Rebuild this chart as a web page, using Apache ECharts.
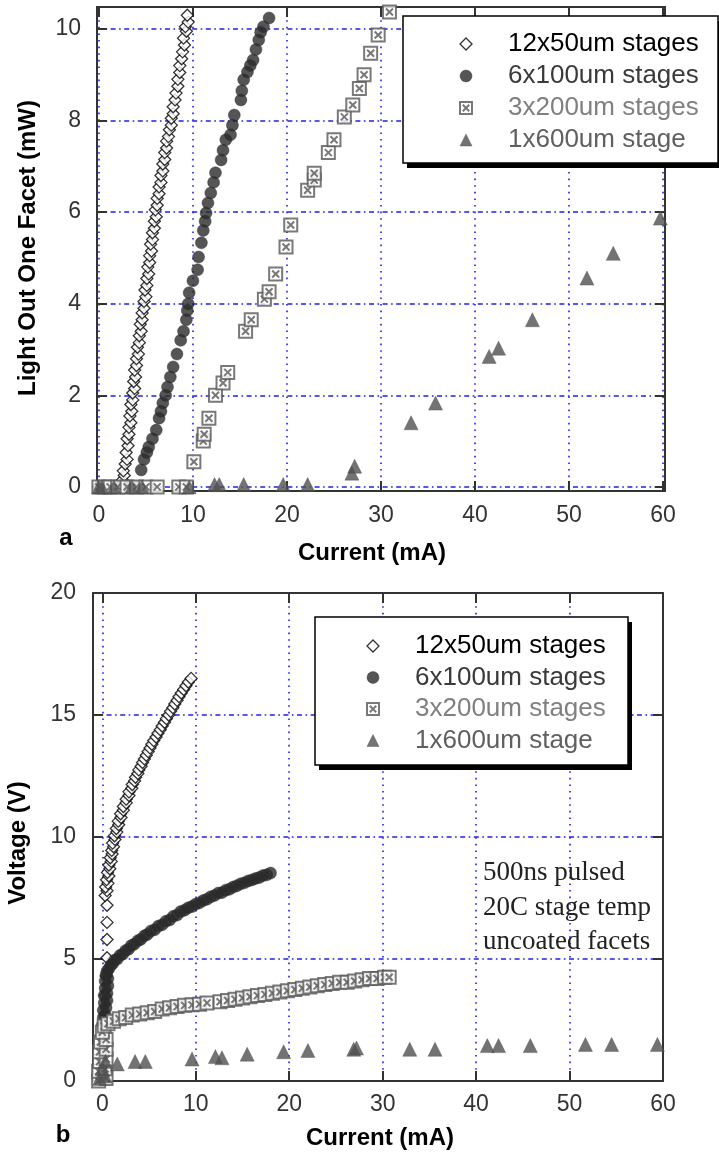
<!DOCTYPE html>
<html>
<head>
<meta charset="utf-8">
<script src="https://cdn.jsdelivr.net/npm/echarts@6/dist/echarts.min.js"></script>
<style>
html,body{margin:0;padding:0;background:#fff;}
#chart{width:719px;height:1154px;}
</style>
</head>
<body>
<div id="chart"></div>
<script>
// ---------- DATA ----------
const seriesNames = ['12x50um stages', '6x100um stages', '3x200um stages', '1x600um stage'];
const xTickValues = [0, 10, 20, 30, 40, 50, 60];
const lightTickValues = [0, 2, 4, 6, 8, 10];
const voltTickValues = [0, 5, 10, 15, 20];

// (a) Light out one facet (mW) vs current (mA)
const light12x50 = [[0,0],[0.3,0],[0.6,0],[0.9,0],[1.2,0],[1.5,0],[1.8,0],[2.1,0],[2.4,0.0],[2.5,0.15],[2.7,0.25],[2.6,0.35],[2.8,0.5],[3.0,0.6],[2.9,0.75],[3.1,0.9],[3.0,1.05],[3.2,1.15],[3.2,1.3],[3.4,1.4],[3.3,1.55],[3.5,1.65],[3.4,1.8],[3.6,1.9],[3.6,2.05],[3.8,2.15],[3.7,2.3],[3.9,2.4],[3.8,2.55],[4.0,2.65],[4.0,2.8],[4.2,2.9],[4.1,3.05],[4.3,3.15],[4.3,3.3],[4.5,3.4],[4.4,3.55],[4.6,3.65],[4.6,3.8],[4.8,3.9],[4.8,4.05],[5.0,4.15],[4.9,4.3],[5.1,4.4],[5.1,4.55],[5.3,4.65],[5.2,4.8],[5.4,4.9],[5.4,5.05],[5.6,5.15],[5.5,5.3],[5.7,5.4],[5.7,5.55],[5.9,5.65],[5.9,5.8],[6.1,5.9],[6.0,6.05],[6.2,6.15],[6.2,6.3],[6.4,6.4],[6.4,6.55],[6.6,6.65],[6.6,6.8],[6.8,6.9],[6.8,7.05],[7.0,7.15],[7.0,7.3],[7.2,7.4],[7.2,7.55],[7.4,7.65],[7.5,7.8],[7.7,7.9],[7.7,8.05],[7.9,8.15],[7.9,8.3],[8.1,8.45],[8.2,8.6],[8.4,8.75],[8.4,8.9],[8.6,9.05],[8.6,9.2],[8.8,9.35],[8.9,9.5],[9.1,9.65],[9.0,9.8],[9.3,9.95],[9.2,10.05],[9.5,10.15],[9.4,10.3]];
const light6x100 = [[0,0],[1,0],[2,0],[3,0],[4,0],[4.5,0.37],[4.8,0.6],[5.1,0.75],[5.3,0.87],[5.7,1.05],[6.1,1.24],[6.4,1.5],[6.6,1.65],[6.8,1.83],[7.1,2.0],[7.3,2.18],[7.6,2.4],[7.9,2.62],[8.3,2.9],[8.7,3.2],[9.0,3.4],[9.3,3.65],[9.4,3.85],[9.5,4.0],[9.6,4.24],[10.0,4.5],[10.5,4.74],[10.6,5.02],[10.9,5.33],[11.1,5.6],[11.3,5.8],[11.4,5.98],[11.6,6.2],[11.9,6.42],[12.2,6.65],[12.4,6.86],[13.0,7.14],[13.2,7.35],[13.5,7.58],[14.0,7.69],[14.2,7.9],[14.4,8.12],[15.1,8.45],[15.2,8.65],[15.4,8.89],[15.8,9.06],[16.1,9.2],[16.4,9.32],[16.7,9.55],[17.0,9.76],[17.2,9.93],[17.5,10.05],[18.1,10.24]];
const light3x200 = [[0,0],[0.6,0],[1.2,0],[2.0,0],[3.0,0],[4.0,0],[5.0,0],[6.2,0],[8.5,0],[9.3,0],[10.1,0.55],[11.1,1.0],[11.2,1.15],[11.7,1.5],[12.4,2.0],[13.2,2.27],[13.7,2.5],[15.6,3.4],[16.2,3.65],[17.6,4.1],[18.1,4.26],[18.8,4.65],[19.9,5.24],[20.4,5.72],[22.2,6.48],[22.9,6.7],[22.9,6.85],[24.4,7.3],[25.0,7.58],[26.1,8.08],[27.0,8.34],[27.7,8.7],[28.2,9.0],[28.9,9.47],[29.7,9.87],[30.9,10.37]];
const light1x600 = [[0,0],[0.3,0],[1.6,0],[3.5,0],[4.6,0],[9.6,0],[12.3,0.05],[12.8,0.05],[15.4,0.05],[19.6,0.05],[22.2,0.05],[26.9,0.3],[27.2,0.45],[33.2,1.4],[35.8,1.83],[41.5,2.85],[42.5,3.03],[46.1,3.65],[51.9,4.56],[54.7,5.1],[59.7,5.87]];

// (b) Voltage (V) vs current (mA)
const volt12x50 = [[0.3,3.5],[0.4,4.3],[0.5,5.05],[0.5,5.8],[0.5,6.5],[0.5,7.2],[0.3,7.6],[0.5,7.8],[0.35,7.95],[0.6,8.1],[0.45,8.25],[0.7,8.4],[0.55,8.55],[0.8,8.7],[0.7,8.85],[0.95,9.0],[0.85,9.15],[1.05,9.3],[1.0,9.45],[1.2,9.6],[1.1,9.75],[1.35,9.9],[1.3,10.05],[1.55,10.2],[1.5,10.35],[1.75,10.5],[1.7,10.65],[2.0,10.8],[1.95,10.95],[2.25,11.1],[2.25,11.25],[2.55,11.4],[2.55,11.55],[2.85,11.7],[2.85,11.85],[3.15,12.0],[3.2,12.15],[3.45,12.3],[3.55,12.45],[3.8,12.6],[3.9,12.75],[4.15,12.9],[4.3,13.05],[4.5,13.2],[4.7,13.35],[4.9,13.5],[5.1,13.65],[5.3,13.8],[5.5,13.95],[5.75,14.1],[5.95,14.25],[6.2,14.4],[6.4,14.55],[6.65,14.7],[6.85,14.85],[7.1,15.0],[7.3,15.15],[7.55,15.3],[7.75,15.45],[8.0,15.6],[8.2,15.75],[8.45,15.9],[8.7,16.05],[8.95,16.2],[9.2,16.35],[9.5,16.5]];
const volt6x100 = [[0.0,2.3],[0.2,2.4],[0.1,2.6],[0.3,2.7],[0.1,2.9],[0.4,3.0],[0.2,3.2],[0.5,3.3],[0.2,3.5],[0.5,3.6],[0.3,3.8],[0.6,3.9],[0.3,4.1],[0.6,4.2],[0.4,4.35],[0.5,4.5],[0.7,4.6],[0.9,4.75],[1.1,4.8],[1.3,4.95],[1.6,5.0],[1.9,5.15],[2.2,5.2],[2.5,5.35],[2.8,5.4],[3.1,5.55],[3.4,5.6],[3.8,5.75],[4.1,5.8],[4.5,5.95],[4.8,6.0],[5.2,6.15],[5.6,6.2],[6.0,6.35],[6.4,6.4],[6.8,6.55],[7.2,6.6],[7.6,6.75],[8.0,6.8],[8.4,6.95],[8.8,7.0],[9.2,7.1],[9.6,7.15],[10.0,7.25],[10.4,7.3],[10.8,7.4],[11.2,7.45],[11.6,7.55],[12.0,7.6],[12.4,7.7],[12.8,7.72],[13.2,7.82],[13.6,7.86],[14.0,7.95],[14.4,8.0],[14.8,8.08],[15.2,8.12],[15.6,8.2],[16.0,8.24],[16.4,8.3],[16.8,8.34],[17.2,8.42],[17.6,8.45],[18.0,8.52]];
const volt3x200 = [[-0.4,0.0],[0.4,0.1],[-0.4,0.4],[0.3,0.5],[-0.3,0.8],[0.4,0.9],[-0.3,1.2],[0.4,1.3],[-0.2,1.6],[0.4,1.7],[0.0,2.0],[0.2,2.25],[0.6,2.35],[1.2,2.45],[1.8,2.55],[2.5,2.6],[3.2,2.7],[4.0,2.75],[4.8,2.8],[5.6,2.85],[6.4,2.95],[7.2,3.0],[8.0,3.05],[8.8,3.1],[9.6,3.12],[10.4,3.15],[11.2,3.2],[12.6,3.25],[13.4,3.3],[14.2,3.35],[15.0,3.4],[15.8,3.45],[16.6,3.5],[17.4,3.55],[18.2,3.6],[19.0,3.65],[19.8,3.7],[20.6,3.75],[21.4,3.8],[22.2,3.85],[23.0,3.9],[23.8,3.95],[24.6,4.0],[25.4,4.05],[26.2,4.05],[27.0,4.1],[27.8,4.15],[28.6,4.2],[29.4,4.2],[30.2,4.25],[30.7,4.25]];
const volt1x600 = [[-0.3,0.1],[0.3,0.2],[0.0,0.5],[0.3,0.8],[1.6,0.7],[3.5,0.8],[4.6,0.8],[9.6,0.9],[12.1,1.0],[12.8,0.95],[15.5,1.1],[19.4,1.2],[22.0,1.25],[26.9,1.3],[27.2,1.35],[32.9,1.3],[35.6,1.3],[41.2,1.45],[42.4,1.45],[45.8,1.45],[51.7,1.5],[54.5,1.5],[59.4,1.5]];

// ---------- STYLE ----------
const FONT = '"Liberation Sans", Arial, sans-serif';
const AXIS_COLOR = '#333';
const GRID_BLUE = '#1f1fee';
const boxX = 'path://M0,0L10,0L10,10L0,10Z M2.3,2.3L7.7,7.7 M7.7,2.3L2.3,7.7';

const markerStyles = [
  { symbol: 'diamond', size: 12, itemStyle: { color: '#fff', borderColor: '#000', borderWidth: 1.3 } },
  { symbol: 'circle', size: 12, itemStyle: { color: '#2b2b2b', borderColor: '#2b2b2b', borderWidth: 0.5 } },
  { symbol: boxX, size: 13, itemStyle: { color: '#fff', borderColor: '#585858', borderWidth: 2 } },
  { symbol: 'triangle', size: 14, itemStyle: { color: '#505050', borderColor: '#505050', borderWidth: 0.5 } }
];
const legendTextColors = ['#000', '#3a3a3a', '#808080', '#606060'];

function makeAxes(gi, xmin, xmax, ymin, ymax, yTicks, xLabelMargin, yLabelMargin) {
  const line = { show: true, onZero: false, lineStyle: { color: AXIS_COLOR, width: 2 } };
  const tick = (vals) => ({ show: true, inside: true, length: 10, customValues: vals, lineStyle: { color: AXIS_COLOR, width: 2 } });
  const xs = [
    { gridIndex: gi, type: 'value', min: xmin, max: xmax, position: 'bottom', axisLine: line,
      axisTick: tick(xTickValues),
      axisLabel: { customValues: xTickValues, fontSize: 23, color: '#333', fontFamily: FONT, margin: xLabelMargin },
      splitLine: { show: true, lineStyle: { color: GRID_BLUE, width: 1.6, type: [1.6, 5] } } },
    { gridIndex: gi, type: 'value', min: xmin, max: xmax, position: 'top', axisLine: line,
      axisTick: tick(xTickValues), axisLabel: { show: false }, splitLine: { show: false } }
  ];
  const ys = [
    { gridIndex: gi, type: 'value', min: ymin, max: ymax, position: 'left', axisLine: line,
      axisTick: tick(yTicks),
      axisLabel: { customValues: yTicks, fontSize: 23, color: '#333', fontFamily: FONT, margin: yLabelMargin },
      splitLine: { show: true, lineStyle: { color: GRID_BLUE, width: 1.6, type: [5, 3.5, 1.6, 3.5] } } },
    { gridIndex: gi, type: 'value', min: ymin, max: ymax, position: 'right', axisLine: line,
      axisTick: tick(yTicks), axisLabel: { show: false }, splitLine: { show: false } }
  ];
  return { xs, ys };
}

const axesA = makeAxes(0, -0.2, 60.2, -0.09, 10.48, lightTickValues, 13, 16);
const axesB = makeAxes(1, -1, 60, 0, 20, voltTickValues, 12, 17);

function makeSeries(name, idx, data, xi, yi) {
  const m = markerStyles[idx];
  return {
    name, type: 'scatter', xAxisIndex: xi, yAxisIndex: yi, data,
    symbol: m.symbol, symbolSize: m.size, itemStyle: m.itemStyle,
    clip: false, animation: false, emphasis: { disabled: true }
  };
}

const lightData = [light12x50, light6x100, light3x200, light1x600];
const voltData = [volt12x50, volt6x100, volt3x200, volt1x600];
const allSeries = [];
lightData.forEach((d, i) => allSeries.push(makeSeries(seriesNames[i], i, d, 0, 0)));
voltData.forEach((d, i) => allSeries.push(makeSeries(seriesNames[i], i, d, 2, 2)));

function makeLegend(left, topPos, padding, gap) {
  return {
    left, top: topPos, orient: 'vertical', selectedMode: false, z: 20,
    padding, itemGap: gap, itemWidth: 12, itemHeight: 12,
    backgroundColor: 'transparent', borderWidth: 0,
    textStyle: { fontSize: 26, fontFamily: FONT, padding: [0, 0, 0, 31], lineHeight: 26 },
    data: seriesNames.map((n, i) => ({
      name: n, icon: markerStyles[i].symbol,
      itemStyle: markerStyles[i].itemStyle,
      textStyle: { color: legendTextColors[i] }
    }))
  };
}

function legendBox(x, y, w, h) {
  return [
    { type: 'rect', z: 15, silent: true, shape: { x: x + 4, y: y + 5, width: w, height: h }, style: { fill: '#000' } },
    { type: 'rect', z: 16, silent: true, shape: { x: x, y: y, width: w, height: h }, style: { fill: '#fff', stroke: '#000', lineWidth: 1.5 } }
  ];
}

const option = {
  backgroundColor: '#fff',
  animation: false,
  grid: [
    { left: 97, right: 54, top: 7, bottom: 663, containLabel: false },
    { left: 93, right: 56, top: 593, bottom: 73, containLabel: false }
  ],
  xAxis: [...axesA.xs, ...axesB.xs],
  yAxis: [...axesA.ys, ...axesB.ys],
  legend: [
    makeLegend(403, 16, [15, 10, 10, 56], 6),
    makeLegend(315, 617, [16, 10, 10, 51], 5.5)
  ],
  series: allSeries,
  graphic: [
    ...legendBox(403, 16, 315, 147),
    ...legendBox(315, 617, 313, 148),
    { type: 'text', x: 28, y: 248, rotation: Math.PI / 2,
      style: { text: 'Light Out One Facet (mW)', font: 'bold 24px ' + FONT, fill: '#000', align: 'center', verticalAlign: 'middle' } },
    { type: 'text', x: 372, y: 553,
      style: { text: 'Current (mA)', font: 'bold 24px ' + FONT, fill: '#000', align: 'center', verticalAlign: 'middle' } },
    { type: 'text', x: 66, y: 538,
      style: { text: 'a', font: 'bold 24px ' + FONT, fill: '#000', align: 'center', verticalAlign: 'middle' } },
    { type: 'text', x: 18, y: 843, rotation: Math.PI / 2,
      style: { text: 'Voltage (V)', font: 'bold 24px ' + FONT, fill: '#000', align: 'center', verticalAlign: 'middle' } },
    { type: 'text', x: 380, y: 1138,
      style: { text: 'Current (mA)', font: 'bold 24px ' + FONT, fill: '#000', align: 'center', verticalAlign: 'middle' } },
    { type: 'text', x: 63, y: 1135,
      style: { text: 'b', font: 'bold 24px ' + FONT, fill: '#000', align: 'center', verticalAlign: 'middle' } },
    { type: 'text', x: 483, y: 856, z: 5,
      style: { text: '500ns pulsed\n20C stage temp\nuncoated facets', font: '27px "Liberation Serif", "Times New Roman", serif', lineHeight: 34.5, fill: '#222', align: 'left', verticalAlign: 'top' } }
  ]
};

const chart = echarts.init(document.getElementById('chart'), null, { renderer: 'canvas' });
chart.setOption(option);
</script>
</body>
</html>
